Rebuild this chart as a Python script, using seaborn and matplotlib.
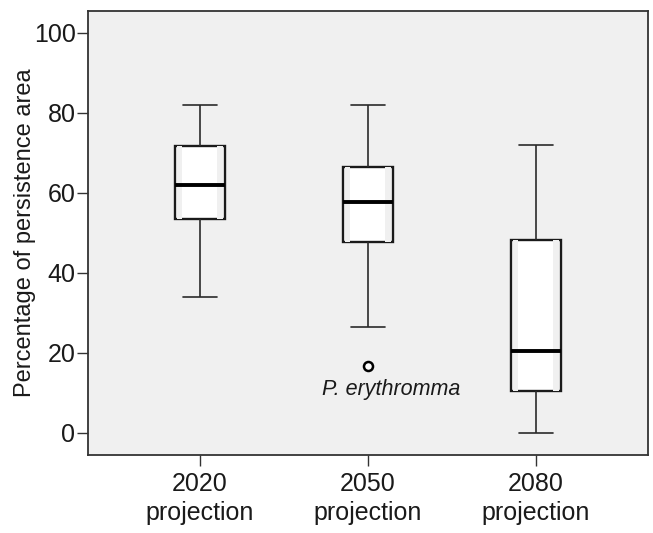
import matplotlib
matplotlib.use("Agg")
import matplotlib.pyplot as plt
from matplotlib.patches import Rectangle
import seaborn as sns
import pandas as pd

# ---- data ----
categories = ["2020\nprojection", "2050\nprojection", "2080\nprojection"]
vals_2020 = [34.1, 53.4, 62.0, 71.8, 82.1]
vals_2050 = [16.8, 26.4, 47.7, 52.0, 57.75, 62.0, 66.6, 75.0, 82.1]
vals_2080 = [0.0, 10.6, 20.6, 48.25, 72.1]
outlier_label = "P. erythromma"
yticks = [0, 20, 40, 60, 80, 100]

df = pd.DataFrame({
    "period": [categories[0]] * len(vals_2020) + [categories[1]] * len(vals_2050)
              + [categories[2]] * len(vals_2080),
    "value": vals_2020 + vals_2050 + vals_2080,
})

sns.set_theme(style="white")
plt.rcParams["font.family"] = ["Liberation Sans", "DejaVu Sans"]

fig = plt.figure(figsize=(6.53, 5.33), dpi=100)
ax = fig.add_axes([88 / 653, 78 / 533, 560 / 653, 444 / 533])
ax.set_facecolor("#f0f0f0")

sns.boxplot(
    data=df, x="period", y="value", order=categories, ax=ax,
    width=0.30, color="white", linecolor="#1a1a1a", linewidth=1.5,
    capwidths=0.20,
    boxprops=dict(facecolor="white", edgecolor="#1a1a1a", linewidth=1.7),
    medianprops=dict(color="black", linewidth=2.8),
    whiskerprops=dict(color="#2a2a2a", linewidth=1.2),
    capprops=dict(color="#2a2a2a", linewidth=1.2),
    flierprops=dict(marker="o", markersize=6.5, markerfacecolor="white",
                    markeredgecolor="black", markeredgewidth=1.8),
)

# subtle shading bands inside each box (SPSS style), derived from box extents
for p in list(ax.patches):
    verts = p.get_path().vertices
    x0, x1 = verts[:, 0].min(), verts[:, 0].max()
    y0, y1 = verts[:, 1].min(), verts[:, 1].max()
    w = x1 - x0
    for a, b in [(0.05, 0.15), (0.83, 0.96)]:
        ax.add_patch(Rectangle((x0 + a * w, y0), (b - a) * w, y1 - y0,
                               facecolor="#f0f0f0", edgecolor="none",
                               zorder=p.get_zorder() + 0.01))

for ln in ax.lines:
    ln.set_zorder(ln.get_zorder() + 1)

# outlier label
ax.text(1.14, vals_2050[0] - 6.0, outlier_label, style="italic", fontsize=15.5,
        ha="center", va="center", color="#1a1a1a")

ax.set_xlim(-0.667, 2.667)
ax.set_ylim(-5.5, 105.5)
ax.set_yticks(yticks)
ax.set_yticklabels([str(t) for t in yticks])
ax.set_xlabel("")
ax.set_ylabel("Percentage of persistence area", fontsize=17, color="#1a1a1a", labelpad=-2)

ax.tick_params(axis="y", which="major", length=8, width=1.0, color="#333333",
               labelsize=18, labelcolor="#1a1a1a", left=True, pad=1)
ax.tick_params(axis="x", which="major", length=8, width=1.0, color="#333333",
               labelsize=18, labelcolor="#1a1a1a", bottom=True, pad=4)
for lab in ax.get_xticklabels():
    lab.set_linespacing(1.3)

for s in ax.spines.values():
    s.set_visible(True)
    s.set_color("#333333")
    s.set_linewidth(1.3)

fig.savefig("out.png", dpi=100, facecolor="white")
